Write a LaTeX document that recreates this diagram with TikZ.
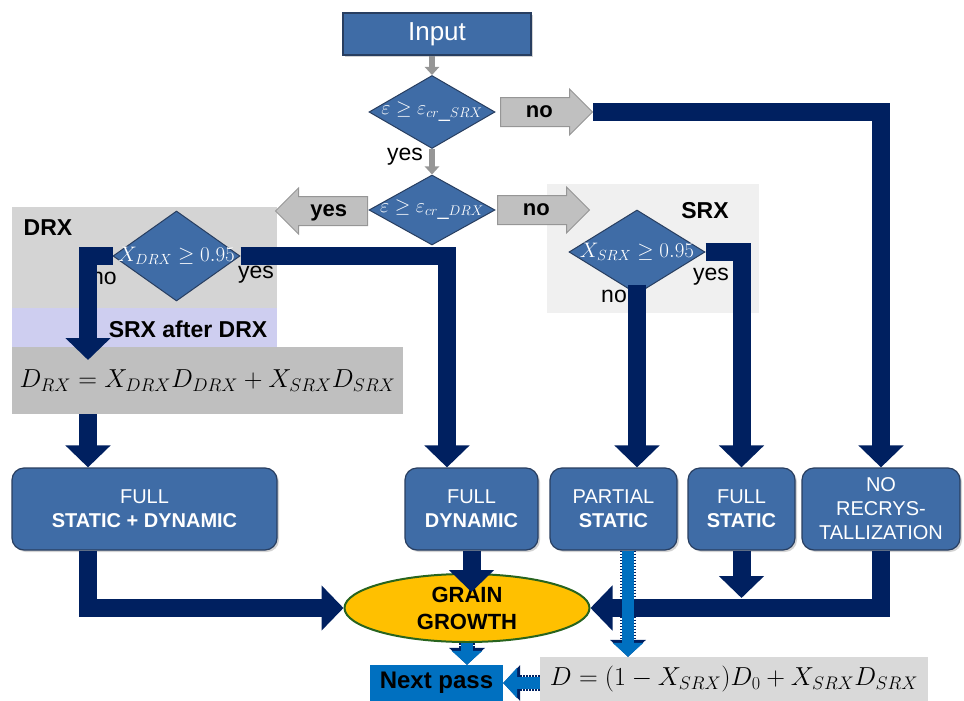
\documentclass[tikz,border=0pt]{standalone}
\usepackage{fix-cm}
\usepackage[no-math]{fontspec}
\setmainfont{Liberation Sans}
\usetikzlibrary{positioning,shapes.geometric,shapes.arrows,arrows.meta,shadows}
\definecolor{boxblue}{RGB}{63,108,166}
\definecolor{boxline}{RGB}{40,62,96}
\definecolor{darknavy}{RGB}{0,32,96}
\definecolor{arrfill}{RGB}{192,192,192}
\definecolor{arrline}{RGB}{150,150,150}
\definecolor{drxgray}{RGB}{212,212,212}
\definecolor{lavender}{RGB}{206,206,240}
\definecolor{srxgray}{RGB}{240,240,240}
\definecolor{eqgray}{RGB}{191,191,191}
\definecolor{eqlight}{RGB}{217,217,217}
\definecolor{gold}{RGB}{255,192,0}
\definecolor{rim}{RGB}{40,100,30}
\definecolor{brightblue}{RGB}{0,112,192}

\begin{document}
\begin{tikzpicture}[x=1pt, y=-1pt,
  flowbox/.style={draw=boxline, fill=boxblue, line width=1.2pt, rounded corners=12pt, text=white, align=center, inner sep=0pt, font=\fontsize{20}{24}\selectfont, drop shadow={opacity=0.35, shadow xshift=2pt, shadow yshift=-2pt}},
  decision/.style={diamond, draw=boxline, fill=boxblue, line width=1pt, text=white, inner sep=0pt, font=\fontsize{20}{24}\selectfont},
  area/.style={rectangle, draw=none, inner sep=0pt},
  areatag/.style={inner sep=0pt, font=\fontsize{23}{26}\selectfont},
  choice/.style={single arrow, draw=arrline, fill=arrfill, line width=1pt, single arrow head extend=8.5pt, minimum height=92pt, minimum width=45pt, inner xsep=6pt, inner ysep=3.5pt, text height=16pt, text depth=5pt, font=\fontsize{22}{24}\selectfont\bfseries},
  feed/.style={draw=arrline, line width=6pt, -{Triangle[width=14pt,length=8pt]}},
  navyflow/.style={draw=darknavy, line width=18pt, -{Triangle[width=44pt,length=22pt]}},
  dotflow/.style={draw=brightblue, line width=12pt, -{Triangle[width=30pt,length=14pt]}, preaction={draw=darknavy, line width=16pt, dash pattern=on 1.5pt off 1.5pt, -{Triangle[width=35pt,length=17pt]}}}]
  \useasboundingbox (0,0) rectangle (964,701);

  \node (DRXArea) [area, fill=drxgray, minimum width=265, minimum height=101] at (144.5,257.5) {};
  \node (SADArea) [area, fill=lavender, minimum width=265, minimum height=39] at (144.5,327.5) {};
  \node (SRXArea) [area, fill=srxgray, minimum width=212, minimum height=129] at (653,248.5) {};
  \node (DRXTag) [areatag] at (48,228) {\bfseries DRX};
  \node (SADTag) [areatag] at (188,329) {\bfseries SRX after DRX};
  \node (SRXTag) [areatag] at (705,211) {\bfseries SRX};

  \node (Input) [flowbox, rounded corners=0pt, minimum width=188, minimum height=42, font=\fontsize{26}{28}\selectfont] at (437,34) {Input};
  \node (CheckSRX) [decision, minimum width=126, minimum height=73] at (432,112) {\makebox[0pt]{$\varepsilon\geq\varepsilon_{cr\_SRX}$}};
  \node (CheckDRX) [decision, minimum width=126, minimum height=70] at (432,210) {\makebox[0pt]{$\varepsilon\geq\varepsilon_{cr\_DRX}$}};
  \node (DRXDone) [decision, minimum width=127, minimum height=90, font=\fontsize{21}{24}\selectfont] at (176.5,256) {\makebox[0pt]{$X_{DRX}\geq 0.95$}};
  \node (SRXDone) [decision, minimum width=136, minimum height=84, font=\fontsize{21}{24}\selectfont] at (637,252) {\makebox[0pt]{$X_{SRX}\geq 0.95$}};

  \node (NoA) [choice, anchor=tail] at (500,112) {no};
  \node (NoB) [choice, anchor=tail] at (497,210) {no};
  \node (YesA) [choice, shape border rotate=180, anchor=tail] at (368,211) {yes};

  \node (YesOne) [areatag] at (405,157) {yes};
  \node (NoDRX) [areatag] at (104,278) {no};
  \node (YesDRX) [areatag] at (256,275) {yes};
  \node (NoSRX) [areatag] at (614,296) {no};
  \node (YesSRX) [areatag] at (711,277) {yes};

  \node (EqRX) [area, fill=eqgray, minimum width=391, minimum height=67, font=\fontsize{26}{28}\selectfont] at (207.5,380.5) {$D_{RX} = X_{DRX}D_{DRX} + X_{SRX}D_{SRX}$};

  \node (FullSD) [flowbox, minimum width=265, minimum height=82] at (144.5,509) {FULL\\\textbf{STATIC + DYNAMIC}};
  \node (FullDyn) [flowbox, minimum width=133, minimum height=82] at (471.5,509) {FULL\\\textbf{DYNAMIC}};
  \node (PartStat) [flowbox, minimum width=127, minimum height=82] at (613.5,509) {PARTIAL\\\textbf{STATIC}};
  \node (FullStat) [flowbox, minimum width=107, minimum height=82] at (741.5,509) {FULL\\\textbf{STATIC}};
  \node (NoRX) [flowbox, minimum width=158, minimum height=82] at (881,509) {NO\\RECRYS-\\TALLIZATION};

  \node (Grain) [ellipse, draw=rim, line width=2pt, fill=gold, minimum width=245, minimum height=68, inner sep=0pt, align=center, font=\fontsize{22}{27}\selectfont\bfseries] at (467,608) {GRAIN\\GROWTH};
  \node (NextPass) [area, fill=brightblue, minimum width=133, minimum height=36, font=\fontsize{24}{26}\selectfont\bfseries] at (436.5,683) {Next pass};
  \node (EqSRX) [area, fill=eqlight, minimum width=388, minimum height=44, font=\fontsize{26}{28}\selectfont] at (734,679) {$D = \bigl(1 - X_{SRX}\bigr) D_0 + X_{SRX} D_{SRX}$};

  \coordinate (RXIn) at (88,360);
  \coordinate (DynX) at (447,0);
  \coordinate (PartX) at (628,0);
  \coordinate (GrainTop) at (471.5,592);
  \coordinate (Bar) at (0,598);

  \draw [feed] (Input.south -| CheckSRX.north) -- (CheckSRX.north);
  \draw [feed] (CheckSRX) -- (CheckDRX);

  \draw [navyflow] (NoA.tip) -| (NoRX.north);
  \draw [navyflow] (DRXDone.west) -| (RXIn);
  \draw [navyflow] (DRXDone.east) -| (FullDyn.north -| DynX);
  \draw [navyflow] (EqRX.south -| RXIn) -- (FullSD.north -| RXIn);
  \draw [navyflow] ([yshift=10pt]SRXDone.south) -- (PartStat.north -| SRXDone.south);
  \draw [navyflow] (SRXDone.east) -| (FullStat.north);
  \draw [navyflow] (FullSD.south -| RXIn) |- (Grain.west);
  \draw [navyflow] (FullDyn.south) -- (GrainTop);
  \draw [navyflow] (NoRX.south) |- (Grain.east);
  \draw [navyflow] (FullStat.south) -- (FullStat.south |- Bar);

  \draw [dotflow] (PartStat.south -| PartX) -- (EqSRX.north -| PartX);
  \draw [dotflow] (Grain.south) -- (Grain.south |- NextPass.north);
  \draw [dotflow] (EqSRX.west |- NextPass.east) -- (NextPass.east);
\end{tikzpicture}
\end{document}
